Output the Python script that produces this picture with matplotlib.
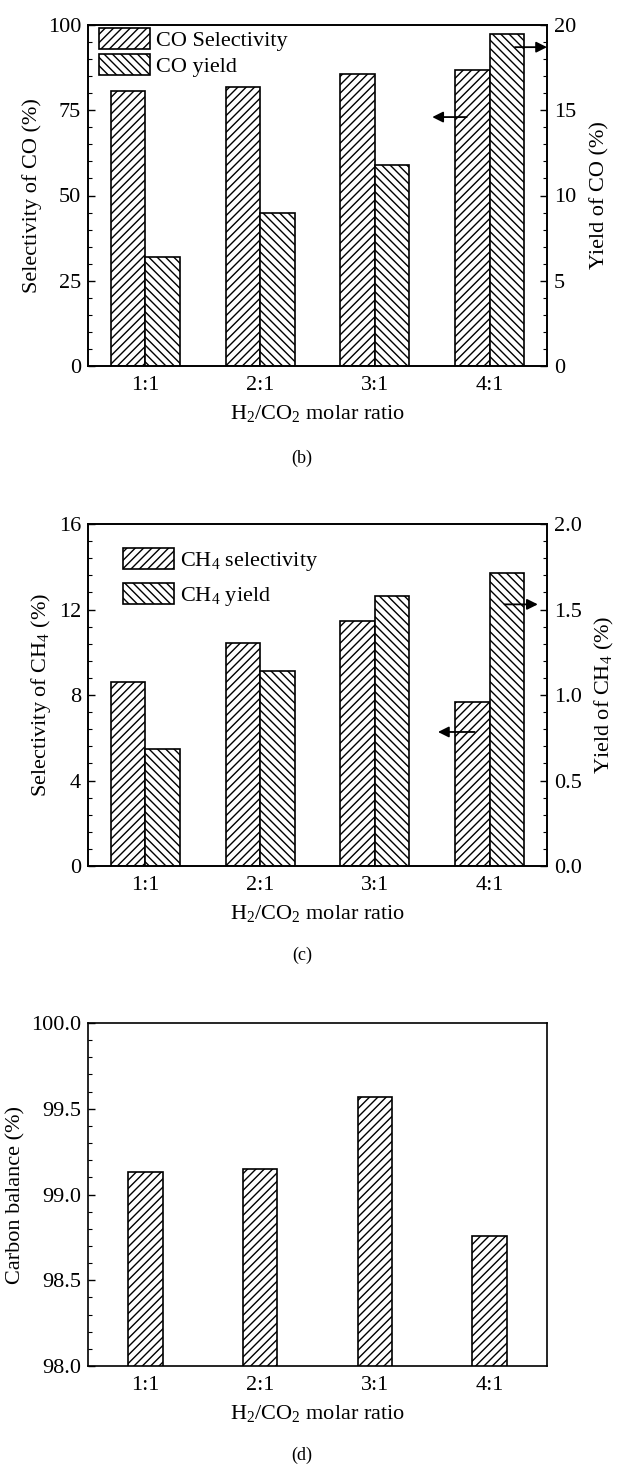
import matplotlib
matplotlib.use('Agg')
import matplotlib.pyplot as plt
from matplotlib.ticker import MultipleLocator, FormatStrFormatter
import numpy as np

# values
ratios = ['1:1', '2:1', '3:1', '4:1']
co_selectivity = [80.5, 81.7, 85.6, 86.7]
co_yield = [6.38, 8.96, 11.77, 19.49]
ch4_selectivity = [8.60, 10.44, 11.46, 7.65]
ch4_yield = [0.685, 1.143, 1.579, 1.711]
carbon_balance = [99.13, 99.15, 99.57, 98.76]

plt.rcParams['font.family'] = ['Liberation Serif', 'DejaVu Serif']
plt.rcParams['mathtext.fontset'] = 'custom'
plt.rcParams['mathtext.rm'] = 'Liberation Serif'
plt.rcParams['mathtext.it'] = 'Liberation Serif:italic'
plt.rcParams['font.size'] = 16
plt.rcParams['hatch.linewidth'] = 1.0
plt.rcParams['axes.linewidth'] = 1.2

XLABEL = r'H$_2$/CO$_2$ molar ratio'
BAR_W = 0.3
HATCH_SEL = '////'
HATCH_YLD = '\\\\\\\\'
x = np.arange(1, len(ratios) + 1)


def style_axis(ax, major, minor, right=False):
    ax.yaxis.set_major_locator(MultipleLocator(major))
    ax.yaxis.set_minor_locator(MultipleLocator(minor))
    ax.tick_params(axis='y', which='major', direction='in', length=5, width=1.0, pad=5)
    ax.tick_params(axis='y', which='minor', direction='in', length=3, width=0.8)
    ax.tick_params(axis='x', which='both', direction='in', length=0, pad=7)
    if right:
        ax.tick_params(axis='y', which='both', left=False, right=True)


def base_x(ax):
    ax.set_xlim(0.5, 4.5)
    ax.set_xticks(x)
    ax.set_xticklabels(ratios)
    ax.set_xlabel(XLABEL, labelpad=6)


def arrow(ax, x0, x1, y):
    ax.annotate('', xy=(x1, y), xytext=(x0, y),
                arrowprops=dict(arrowstyle='-|>', color='black', lw=1.3,
                                mutation_scale=16, shrinkA=0, shrinkB=0))


fig = plt.figure(figsize=(6.18, 14.66), dpi=100)
left, width = 88 / 618, 459 / 618

# ---- (b) CO selectivity / yield
ax1 = fig.add_axes([left, 1 - 366 / 1466, width, 341 / 1466])
ax1b = ax1.twinx()
h1 = ax1.bar(x - BAR_W / 2, co_selectivity, BAR_W, color='white',
             edgecolor='black', hatch=HATCH_SEL, linewidth=1.2)
h2 = ax1b.bar(x + BAR_W / 2, co_yield, BAR_W, color='white',
              edgecolor='black', hatch=HATCH_YLD, linewidth=1.2)
ax1.set_ylim(0, 100)
ax1b.set_ylim(0, 20)
style_axis(ax1, 25, 5)
style_axis(ax1b, 5, 1, right=True)
base_x(ax1)
ax1.set_ylabel('Selectivity of CO (%)', labelpad=4)
ax1b.set_ylabel('Yield of CO (%)', labelpad=10)
ax1b.legend([h1, h2], ['CO Selectivity', 'CO yield'], loc='upper left',
            bbox_to_anchor=(0.024, 0.99), frameon=False, borderpad=0,
            borderaxespad=0, handlelength=2.3, handleheight=1.08,
            labelspacing=0.13, handletextpad=0.25)
arrow(ax1, 3.8, 3.5, 73)
arrow(ax1b, 4.22, 4.5, 18.7)

# ---- (c) CH4 selectivity / yield
ax2 = fig.add_axes([left, 1 - 866 / 1466, width, 342 / 1466])
ax2b = ax2.twinx()
h3 = ax2.bar(x - BAR_W / 2, ch4_selectivity, BAR_W, color='white',
             edgecolor='black', hatch=HATCH_SEL, linewidth=1.2)
h4 = ax2b.bar(x + BAR_W / 2, ch4_yield, BAR_W, color='white',
              edgecolor='black', hatch=HATCH_YLD, linewidth=1.2)
ax2.set_ylim(0, 16)
ax2b.set_ylim(0, 2.0)
ax2b.yaxis.set_major_formatter(FormatStrFormatter('%.1f'))
style_axis(ax2, 4, 0.8)
style_axis(ax2b, 0.5, 0.1, right=True)
base_x(ax2)
ax2.set_ylabel(r'Selectivity of CH$_4$ (%)', labelpad=4)
ax2b.set_ylabel(r'Yield of CH$_4$ (%)', labelpad=8)
ax2b.legend([h3, h4], [r'CH$_4$ selectivity', r'CH$_4$ yield'], loc='upper left',
            bbox_to_anchor=(0.077, 0.93), frameon=False, borderpad=0,
            borderaxespad=0, handlelength=2.3, handleheight=1.08,
            labelspacing=0.45, handletextpad=0.25)
arrow(ax2, 3.87, 3.55, 6.27)
arrow(ax2b, 4.13, 4.42, 1.53)

# ---- (d) carbon balance
ax3 = fig.add_axes([left, 1 - 1366 / 1466, width, 343 / 1466])
ax3.bar(x, carbon_balance, BAR_W, color='white', edgecolor='black',
        hatch=HATCH_SEL, linewidth=1.2)
ax3.set_ylim(98.0, 100.0)
ax3.yaxis.set_major_formatter(FormatStrFormatter('%.1f'))
style_axis(ax3, 0.5, 0.1)
base_x(ax3)
ax3.set_ylabel('Carbon balance (%)', labelpad=4)

# sub-figure captions
for ypix, tag in [(458, '(b)'), (955, '(c)'), (1455, '(d)')]:
    fig.text(302 / 618, 1 - ypix / 1466, tag, ha='center', va='center', fontsize=13)

fig.savefig('out.png', dpi=100, facecolor='white')
